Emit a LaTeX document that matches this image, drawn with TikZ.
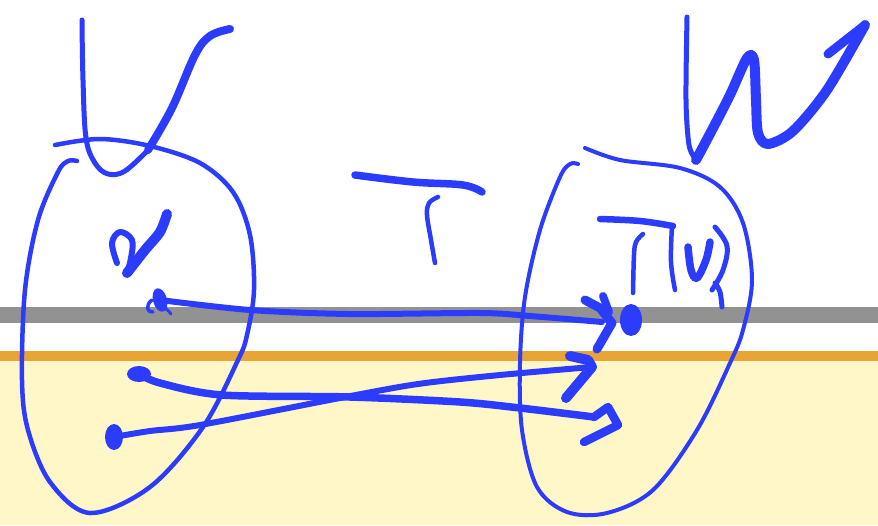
\documentclass[tikz,border=0pt]{standalone}
\definecolor{ink}{RGB}{43,60,255}
\definecolor{bandgray}{RGB}{146,146,146}
\definecolor{bandorange}{RGB}{232,164,53}
\definecolor{bandyellow}{RGB}{255,247,200}
\begin{document}
\begin{tikzpicture}[x=1pt,y=-1pt,
  pen/.style={draw=ink,line cap=round,line join=round},
  thinpen/.style={pen,line width=4pt},
  midpen/.style={pen,line width=6pt},
  thickpen/.style={pen,line width=8.5pt},
  blob/.style={fill=ink,draw=none}]
\useasboundingbox (0,0) rectangle (878,525);
% background bands
\fill[white] (0,0) rectangle (878,525);
\fill[bandgray] (0,307) rectangle (878,323);
\fill[bandorange] (0,351) rectangle (878,361);
\fill[bandyellow] (0,361) rectangle (878,525);

% ---- letter V ----
\draw[midpen,line width=5pt] plot[smooth,tension=0.6] coordinates {(82,20) (83,80) (86,138) (95,163) (108,174) (125,171) (148,150)};
\draw[thickpen,line width=8pt] plot[smooth,tension=0.6] coordinates {(148,150) (172,108) (195,55) (210,36) (230,29)};

% ---- set V outline ----
\draw[thinpen,line width=4.5pt] plot[smooth,tension=0.55] coordinates {(55,145) (100,139) (150,146) (200,163) (233,192) (250,235) (254,290) (247,335) (238,360) (203,427) (150,487) (90,513) (50,482) (28,430) (22,380) (25,290) (38,220) (58,172) (68,161) (77,161)};

% ---- letter v ----
\draw[midpen] plot[smooth,tension=0.6] coordinates {(117,263) (112,243) (120,232) (132,240) (131,258) (127,273)};
\draw[thickpen,line width=10pt] plot[smooth,tension=0.5] coordinates {(127,273) (145,250) (160,232) (167,214)};

% ---- letter T (middle) ----
\draw[thickpen,line width=7.5pt] plot[smooth,tension=0.6] coordinates {(355,175) (413,182) (463,185) (482,192)};
\draw[thinpen,line width=4.5pt] plot[smooth,tension=0.6] coordinates {(438,197) (429,203) (427,215) (431,240) (435,263)};

% ---- letter W ----
\draw[midpen,line width=5pt] plot[smooth,tension=0.5] coordinates {(687,17) (686,100) (689,145) (696,160)};
\draw[thickpen,line width=10pt] plot[smooth,tension=0.5] coordinates {(696,160) (712,130) (730,95) (747,58) (754,60) (756,100) (758,133) (768,144) (793,131) (827,90) (865,25)};
\draw[thickpen,line width=9pt] (865,25) -- (828,54);

% ---- set W outline ----
\draw[thinpen] plot[smooth,tension=0.55] coordinates {(585,148) (620,160) (680,168) (720,187) (743,223) (752,280) (743,330) (730,363) (697,430) (653,490) (607,513) (567,512) (537,487) (522,430) (520,363) (525,297) (540,230) (560,177) (570,164) (578,164)};

% ---- T(v) label ----
\draw[midpen,line width=6.5pt] plot[smooth,tension=0.6] coordinates {(600,219) (640,221) (673,226)};
\draw[thinpen,line width=4.5pt] plot[smooth,tension=0.6] coordinates {(643,234) (636,242) (634,255) (633,293)};
\draw[thinpen,line width=4.5pt] plot[smooth,tension=0.6] coordinates {(672,226) (671,262) (675,290)};
\draw[midpen,line width=7.5pt] plot[smooth,tension=0.6] coordinates {(688,247) (691,270) (697,278) (706,260) (710,242)};
\draw[thinpen,line width=5pt] plot[smooth,tension=0.6] coordinates {(715,227) (727,246) (723,270) (712,290)};
\draw[thinpen,line width=5pt] plot[smooth,tension=0.6] coordinates {(715,283) (720,292) (722,307)};

% ---- points ----
\coordinate (v1) at (160,300);
\coordinate (v2) at (139,374);
\coordinate (v3) at (114,437);
\coordinate (tv) at (631,320);
\fill[blob,rotate around={15:(v1)}] (v1) ellipse[x radius=7,y radius=12];
\draw[thinpen,line width=3.5pt] (152,300) .. controls (145,305) and (147,313) .. (153,312);
\draw[thinpen,line width=3pt] (164,308) .. controls (168,310) and (170,312) .. (171,314);
\fill[blob] (v2) ellipse[x radius=12,y radius=8];
\fill[blob] (v3) ellipse[x radius=9,y radius=13];
\fill[blob] (tv) ellipse[x radius=11,y radius=16];

% ---- arrows ----
\coordinate (h1) at (602,322);
\coordinate (h2) at (592,367);
\coordinate (h3) at (594,417);
\draw[midpen] plot[smooth,tension=0.5] coordinates {(v1) (250,310) (350,314) (480,313) (530,316) (h1)};
\draw[thickpen,line width=9pt] (585,300) -- (600,308) -- (612,323) -- (597,349);
\draw[thickpen,line width=8pt] (603,296) -- (609,312);

\draw[midpen,line width=7.5pt] plot[smooth,tension=0.5] coordinates {(v2) (160,383) (222,395) (350,397) (460,402) (520,408) (h3)};
\draw[thickpen,line width=8.5pt] (h3) -- (608,407) -- (618,425) -- (584,442);

\draw[midpen] plot[smooth,tension=0.5] coordinates {(v3) (150,431) (200,425) (340,398) (418,384) (500,375) (h2)};
\draw[thickpen,line width=10pt] (570,356) -- (588,360) -- (592,367) -- (566,398);
\end{tikzpicture}
\end{document}
